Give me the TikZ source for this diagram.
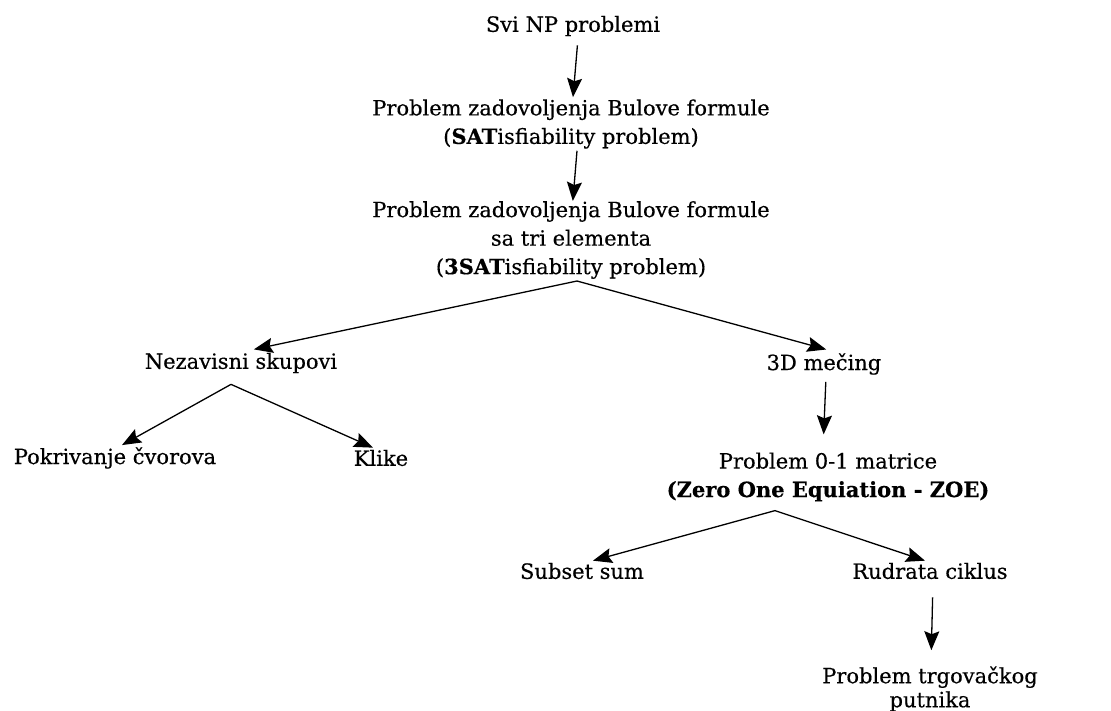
\documentclass[tikz,border=0pt]{standalone}
\usepackage{fontspec}
\newfontfamily\lbfont[FakeBold=0.4]{DejaVu Serif}
\usetikzlibrary{arrows.meta}
\begin{document}
\begin{tikzpicture}[x=1pt,y=-1pt,
  lbl/.style={inner xsep=0pt,inner ysep=2pt,align=center,
    font={\lbfont\fontsize{21}{28.5}\selectfont}},
  arr/.style={-{Stealth[length=19pt,width=15pt,inset=3pt]},line width=1.3pt}]
\useasboundingbox (0,0) rectangle (1111,711);

% reduction chain
\node[lbl] (svi) at (573,26) {Svi NP problemi};
\node[lbl] (sat) at (571,124) {Problem zadovoljenja Bulove formule\\(\textbf{SAT}isfiability problem)};
\node[lbl] (sat3) at (571,240) {Problem zadovoljenja Bulove formule\\sa tri elementa\\(\textbf{3SAT}isfiability problem)};
\node[lbl] (nez) at (241,363) {Nezavisni skupovi};
\node[lbl] (d3) at (824,364) {3D mečing};
\node[lbl] (pok) at (115,458) {Pokrivanje čvorova};
\node[lbl] (kli) at (381,458) {Klike};
\node[lbl] (zoe) at (828,477) {Problem 0-1 matrice\\\textbf{(Zero One Equiation - ZOE)}};
\node[lbl] (sub) at (582,571) {Subset sum};
\node[lbl] (rud) at (930,571) {Rudrata ciklus};
\node[lbl,font={\lbfont\fontsize{21}{24}\selectfont}] (trg) at (930,689) {Problem trgovačkog\\putnika};

% connectors
\draw[arr,shorten <=7pt] ([xshift=5pt]svi.south) -- ([xshift=2pt]sat.north);
\draw[arr,shorten >=-2pt] ([xshift=6pt]sat.south) -- ([xshift=2pt]sat3.north);
\draw[arr,shorten >=6pt] ([xshift=6pt]sat3.south) -- ([xshift=7pt]nez.north);
\draw[arr,shorten >=6pt] ([xshift=6pt]sat3.south) -- ([xshift=8pt]d3.north);
\draw[arr] ([xshift=-10pt,yshift=-9pt]nez.south) -- ([xshift=7pt]pok.north);
\draw[arr] ([xshift=-10pt,yshift=-9pt]nez.south) -- ([xshift=-8pt]kli.north);
\draw[arr,shorten <=5pt,shorten >=16pt] ([xshift=2pt]d3.south) -- ([xshift=-5pt]zoe.north);
\draw[arr] ([xshift=-53pt,yshift=-7pt]zoe.south) -- ([xshift=11pt]sub.north);
\draw[arr] ([xshift=-53pt,yshift=-7pt]zoe.south) -- ([xshift=-5pt]rud.north);
\draw[arr,shorten <=16pt,shorten >=14pt] ([xshift=3pt]rud.south) -- ([xshift=1pt]trg.north);
\end{tikzpicture}
\end{document}
